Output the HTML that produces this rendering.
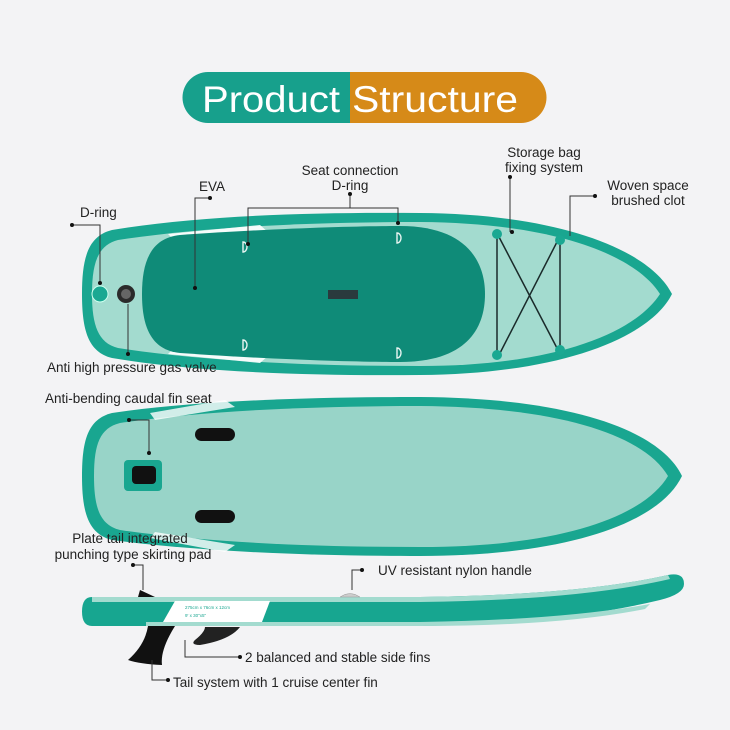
<!DOCTYPE html>
<html><head><meta charset="utf-8"><style>
html,body{margin:0;padding:0;background:#f3f3f5;}
svg{display:block}
text{font-family:"Liberation Sans",sans-serif;fill:#222;}
</style></head><body>
<svg width="730" height="730" viewBox="0 0 730 730" xmlns="http://www.w3.org/2000/svg">
<rect width="730" height="730" fill="#f3f3f5"/>
<!-- title -->
<path d="M208,72 H350 V123 H208 A25.5,25.5 0 0 1 208,72 Z" fill="#17a08c"/>
<path d="M350,72 H521 A25.5,25.5 0 0 1 521,123 H350 Z" fill="#d68a18"/>
<text x="202" y="112" font-size="37" style="fill:#fff" textLength="138" lengthAdjust="spacingAndGlyphs">Product</text>
<text x="352" y="112" font-size="37" style="fill:#fff" textLength="166" lengthAdjust="spacingAndGlyphs">Structure</text>

<!-- top board -->
<path d="M112,230 C200,215 320,212 420,213 C560,214 650,250 672,294 C650,338 560,374 420,375 C320,376 200,373 112,358 C88,352 82,330 82,294 C82,258 88,236 112,230 Z" fill="#19a690"/>
<path d="M118,240 C210,226 320,222 420,222 C555,223 635,255 660,294 C635,333 555,366 420,366 C320,366 210,362 118,348 C98,343 92,325 92,294 C92,263 98,245 118,240 Z" fill="#a3dbcf"/>
<path d="M168,234 L260,225 L268,232 L175,241 Z" fill="#fff" opacity="0.9"/>
<path d="M168,354 L260,363 L268,356 L175,347 Z" fill="#fff" opacity="0.9"/>
<path d="M180,235 C280,228 360,226 400,226 C465,226 485,260 485,294 C485,330 465,362 400,362 C360,362 280,360 180,353 C150,350 142,325 142,294 C142,263 150,238 180,235 Z" fill="#0f8b78"/>
<rect x="328" y="290" width="30" height="9" fill="#2a3a3d"/>
<g fill="none" stroke="#e8f5f2" stroke-width="1.4">
<path d="M243,242 a4,5 0 0 1 0,10 z"/><path d="M397,233 a4,5 0 0 1 0,10 z"/>
<path d="M243,340 a4,5 0 0 1 0,10 z"/><path d="M397,348 a4,5 0 0 1 0,10 z"/>
</g>
<circle cx="100" cy="294" r="8" fill="#1aa892" stroke="#cfe" stroke-width="1"/>
<circle cx="126" cy="294" r="9" fill="#2b2b2b"/><circle cx="126" cy="294" r="5" fill="#666"/>
<g stroke="#1a2a2a" stroke-width="1.5">
<line x1="497" y1="237" x2="497" y2="355"/><line x1="560" y1="240" x2="560" y2="350"/>
<line x1="499" y1="237" x2="558" y2="350"/><line x1="558" y1="240" x2="499" y2="355"/>
</g>
<g fill="#1aa892"><circle cx="497" cy="234" r="5"/><circle cx="497" cy="355" r="5"/><circle cx="560" cy="240" r="5"/><circle cx="560" cy="350" r="5"/></g>

<!-- bottom board -->
<path d="M112,413 C200,400 320,397 420,397 C570,398 660,430 682,476 C660,522 570,556 420,556 C320,556 200,552 112,540 C88,534 82,512 82,476 C82,440 88,419 112,413 Z" fill="#19a690"/>
<path d="M120,423 C210,410 320,406 420,406 C565,407 645,437 668,476 C645,515 565,547 420,547 C320,547 210,543 120,530 C100,525 94,508 94,476 C94,444 100,428 120,423 Z" fill="#98d4c8"/>
<path d="M150,413 L225,400 L235,407 L155,420 Z" fill="#fff" opacity="0.8"/>
<path d="M150,538 L225,552 L235,545 L155,532 Z" fill="#fff" opacity="0.8"/>
<rect x="124" y="460" width="38" height="31" rx="4" fill="#19a690"/>
<rect x="132" y="466" width="24" height="18" rx="4" fill="#111"/>
<rect x="195" y="428" width="40" height="13" rx="6.5" fill="#111"/>
<rect x="195" y="510" width="40" height="13" rx="6.5" fill="#111"/>
<line x1="330" y1="548" x2="370" y2="548" stroke="#19a690" stroke-width="1"/>

<!-- side board -->
<path d="M92,597 L420,597 Q580,595 668,575 Q684,572 684,584 Q684,594 660,600 Q560,624 420,626 L92,626 Q82,626 82,611.5 Q82,597 92,597 Z" fill="#17a690"/>
<path d="M92,597 L420,597 Q580,595 668,575 L670,579 Q580,600 420,602 L92,602 Z" fill="#a3dbcf"/>
<path d="M146,622 L420,622 Q560,620 650,604 L645,609 Q560,626 420,626 L146,626 Z" fill="#a3dbcf"/>
<path d="M175,601 L270,601 L262,622 L163,622 Z" fill="#fff"/>
<text x="185" y="609" font-size="4.5" style="fill:#19a690">275cm x 76cm x 12cm</text>
<text x="185" y="617" font-size="4.5" style="fill:#19a690">9' x 30"x5"</text>
<path d="M138,597 L140,590 L155,597 Z" fill="#111"/>
<path d="M340,597 Q350,590 360,597 Z" fill="#ccc" stroke="#999" stroke-width="0.5"/>
<path d="M148,626 L175,626 Q160,650 162,665 Q140,664 128,660 Q145,645 148,626 Z" fill="#111"/>
<path d="M205,627 L240,627 Q230,640 200,645 Q190,645 195,640 Q205,632 205,627 Z" fill="#222"/>

<!-- connectors -->
<g stroke="#333" stroke-width="1" fill="none">
<polyline points="72,225 100,225 100,283"/>
<polyline points="210,198 195,198 195,288"/>
<polyline points="248,244 248,208 398,208 398,223"/>
<line x1="350" y1="194" x2="350" y2="208"/>
<line x1="510" y1="177" x2="510" y2="232"/>
<polyline points="595,196 570,196 570,236"/>
<line x1="128" y1="304" x2="128" y2="354"/>
<polyline points="129,420 149,420 149,453"/>
<polyline points="133,565 143,565 143,590"/>
<polyline points="362,570 352,570 352,590"/>
<polyline points="185,640 185,657 240,657"/>
<polyline points="152,660 152,680 168,680"/>
</g>
<g fill="#111">
<circle cx="72" cy="225" r="2"/><circle cx="100" cy="283" r="2"/>
<circle cx="210" cy="198" r="2"/><circle cx="195" cy="288" r="2"/>
<circle cx="350" cy="194" r="2"/><circle cx="248" cy="244" r="2"/><circle cx="398" cy="223" r="2"/>
<circle cx="510" cy="177" r="2"/><circle cx="512" cy="232" r="2"/>
<circle cx="595" cy="196" r="2"/>
<circle cx="128" cy="354" r="2"/>
<circle cx="129" cy="420" r="2"/><circle cx="149" cy="453" r="2"/>
<circle cx="133" cy="565" r="2"/><circle cx="362" cy="570" r="2"/>
<circle cx="240" cy="657" r="2"/><circle cx="168" cy="680" r="2"/>
</g>

<!-- labels -->
<g font-size="13.5">
<text x="80" y="217">D-ring</text>
<text x="199" y="191">EVA</text>
<text x="350" y="175" text-anchor="middle">Seat connection</text>
<text x="350" y="190" text-anchor="middle">D-ring</text>
<text x="544" y="157" text-anchor="middle">Storage bag</text>
<text x="544" y="172" text-anchor="middle">fixing system</text>
<text x="648" y="190" text-anchor="middle">Woven space</text>
<text x="648" y="205" text-anchor="middle">brushed clot</text>
<text x="47" y="372">Anti high pressure gas valve</text>
<text x="45" y="403">Anti-bending caudal fin seat</text>
<text x="130" y="543" text-anchor="middle">Plate tail integrated</text>
<text x="133" y="559" text-anchor="middle">punching type skirting pad</text>
<text x="378" y="575">UV resistant nylon handle</text>
<text x="245" y="662">2 balanced and stable side fins</text>
<text x="173" y="687">Tail system with 1 cruise center fin</text>
</g>
</svg>
</body></html>
